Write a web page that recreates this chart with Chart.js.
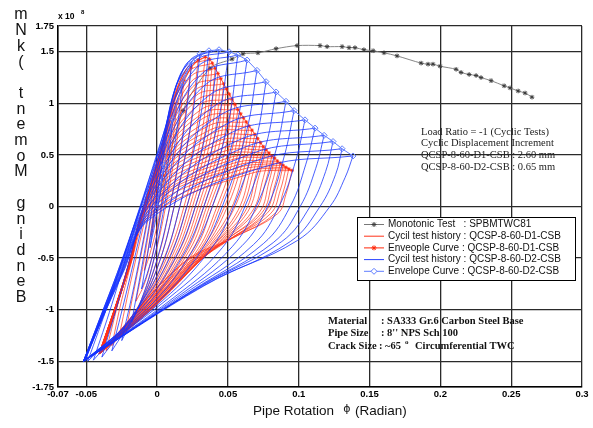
<!DOCTYPE html>
<html>
<head>
<meta charset="utf-8">
<script src="https://cdn.jsdelivr.net/npm/chart.js@4.4.1/dist/chart.umd.min.js"></script>
<style>
html,body{margin:0;padding:0;background:#fff;}
canvas{display:block;}
</style>
</head>
<body>
<canvas id="c" width="593" height="428" style="width:593px;height:428px"></canvas>
<script>
// ---- axis ticks ----
const xTickVals = [-0.07, -0.05, 0, 0.05, 0.1, 0.15, 0.2, 0.25, 0.3];
const xTickLabels = ['-0.07', '-0.05', '0', '0.05', '0.1', '0.15', '0.2', '0.25', '0.3'];
const yTickVals = [-1.75, -1.5, -1, -0.5, 0, 0.5, 1, 1.5, 1.75];
const yTickLabels = ['-1.75', '-1.5', '-1', '-0.5', '0', '0.5', '1', '1.5', '1.75'];

// ---- Monotonic test SPBMTWC81 (moment x 1e8) ----
const monoX = [0, 0.0183, 0.0373, 0.0529, 0.0606, 0.0712, 0.084, 0.0988, 0.115, 0.12, 0.1306, 0.1355, 0.1397, 0.146, 0.1525, 0.1602, 0.1694, 0.1864, 0.1913, 0.1948, 0.1998, 0.2111, 0.2146, 0.2203, 0.2252, 0.2287, 0.2358, 0.245, 0.2492, 0.2549, 0.2598, 0.2647];
const monoY = [0, 0.93, 1.34, 1.43, 1.48, 1.49, 1.53, 1.56, 1.56, 1.55, 1.55, 1.54, 1.54, 1.52, 1.51, 1.49, 1.46, 1.39, 1.38, 1.38, 1.36, 1.33, 1.30, 1.28, 1.27, 1.25, 1.22, 1.17, 1.15, 1.12, 1.10, 1.06];

// ---- QCSP-8-60-D2-CSB cycles (blue): peaks, tips and via points of each cycle ----
const d2PeakX = [0.005, 0.011, 0.018, 0.0246, 0.0303, 0.0366, 0.0437, 0.0508, 0.057, 0.0635, 0.0705, 0.0769, 0.084, 0.091, 0.0967, 0.1044, 0.1115, 0.1179, 0.1242, 0.1306, 0.1383];
const d2PeakY = [0.40, 0.85, 1.20, 1.41, 1.48, 1.51, 1.52, 1.50, 1.47, 1.42, 1.32, 1.21, 1.11, 1.02, 0.93, 0.84, 0.76, 0.69, 0.63, 0.56, 0.49];
const d2TipX = [-0.005, -0.011, -0.018, -0.025, -0.032, -0.039, -0.045, -0.049, -0.051, -0.052, -0.052, -0.052, -0.051, -0.052, -0.052, -0.051, -0.052, -0.052, -0.051, -0.052, -0.052];
const d2TipY = [-0.40, -0.80, -1.12, -1.30, -1.40, -1.46, -1.49, -1.50, -1.50, -1.50, -1.50, -1.50, -1.49, -1.50, -1.50, -1.49, -1.50, -1.50, -1.49, -1.50, -1.50];
const d2AX = [0.001, -0.002, -0.006, -0.011, -0.016, -0.022, -0.027, -0.032, -0.034, -0.034, -0.034, -0.033, -0.032, -0.031, -0.030, -0.029, -0.028, -0.027, -0.026, -0.025, -0.024];
const d2AY = [0.08, -0.10, -0.40, -0.60, -0.75, -0.85, -0.90, -0.95, -0.92, -0.90, -0.86, -0.82, -0.80, -0.78, -0.76, -0.74, -0.72, -0.70, -0.68, -0.66, -0.64];
const d2KX = [0.0025, 0.003, 0.002, 0.002, 0.003, 0.004, 0.006, 0.008, 0.007, 0.006, 0.005, 0.004, 0.003, 0.002, 0.001, 0.0, -0.001, -0.002, -0.003, -0.004, -0.005];
const d2KY = [0.20, 0.35, 0.30, 0.40, 0.55, 0.65, 0.78, 0.85, 0.75, 0.65, 0.55, 0.45, 0.35, 0.27, 0.20, 0.12, 0.05, 0.00, -0.05, -0.09, -0.12];
const d2BX = [0.004, 0.007, 0.010, 0.013, 0.016, 0.019, 0.022, 0.026, 0.028, 0.031, 0.034, 0.037, 0.041, 0.045, 0.049, 0.053, 0.057, 0.061, 0.066, 0.071, 0.077];
const d2BY = [0.32, 0.68, 0.95, 1.15, 1.27, 1.35, 1.40, 1.40, 1.35, 1.28, 1.18, 1.08, 0.98, 0.89, 0.80, 0.72, 0.64, 0.57, 0.51, 0.45, 0.39];
const d2CX = [0.003, 0.008, 0.013, 0.019, 0.024, 0.030, 0.036, 0.043, 0.050, 0.056, 0.063, 0.070, 0.077, 0.084, 0.090, 0.098, 0.105, 0.112, 0.119, 0.126, 0.1327];
const d2CY = [0.20, 0.45, 0.65, 0.75, 0.80, 0.82, 0.82, 0.82, 0.80, 0.78, 0.72, 0.66, 0.60, 0.55, 0.50, 0.45, 0.41, 0.37, 0.34, 0.31, 0.28];
const d2DX = [0.0, 0.003, 0.005, 0.009, 0.012, 0.016, 0.021, 0.027, 0.033, 0.039, 0.046, 0.054, 0.062, 0.070, 0.078, 0.086, 0.094, 0.101, 0.108, 0.115, 0.122];
const d2DY = [-0.05, 0, 0, 0, 0, 0, 0, 0, 0, 0, 0, 0, 0, 0, 0, 0, 0, 0, 0, 0, 0];
const d2EX = [-0.002, -0.002, -0.003, -0.002, 0.0, 0.003, 0.007, 0.012, 0.018, 0.024, 0.031, 0.038, 0.046, 0.053, 0.060, 0.068, 0.075, 0.082, 0.088, 0.094, 0.099];
const d2EY = [-0.20, -0.40, -0.55, -0.60, -0.60, -0.58, -0.55, -0.52, -0.48, -0.45, -0.43, -0.41, -0.40, -0.39, -0.38, -0.37, -0.36, -0.35, -0.34, -0.34, -0.33];
const d2FX = [-0.004, -0.007, -0.011, -0.014, -0.016, -0.017, -0.015, -0.012, -0.008, -0.004, 0.0, 0.004, 0.008, 0.012, 0.016, 0.020, 0.024, 0.027, 0.030, 0.033, 0.035];
const d2FY = [-0.33, -0.65, -0.90, -1.00, -1.05, -1.05, -1.02, -1.00, -0.97, -0.95, -0.93, -0.91, -0.89, -0.88, -0.86, -0.84, -0.82, -0.80, -0.78, -0.77, -0.75];

// ---- QCSP-8-60-D1-CSB cycles (red) ----
const d1PeakX = [0.004, 0.009, 0.014, 0.019, 0.024, 0.029, 0.034, 0.037, 0.039, 0.041, 0.043, 0.045, 0.047, 0.049, 0.051, 0.053, 0.055, 0.057, 0.059, 0.061, 0.063, 0.065, 0.067, 0.069, 0.071, 0.073, 0.075, 0.077, 0.079, 0.081, 0.083, 0.085, 0.087, 0.089, 0.091, 0.093, 0.0953];
const d1PeakY = [0.30, 0.68, 1.00, 1.22, 1.35, 1.42, 1.45, 1.43, 1.39, 1.34, 1.29, 1.24, 1.19, 1.14, 1.09, 1.04, 0.99, 0.94, 0.90, 0.86, 0.82, 0.78, 0.74, 0.70, 0.66, 0.62, 0.58, 0.55, 0.52, 0.49, 0.47, 0.44, 0.42, 0.40, 0.38, 0.365, 0.35];
const d1TipX = [-0.004, -0.009, -0.015, -0.021, -0.027, -0.032, -0.036, -0.039, -0.040, -0.041, -0.040, -0.039, -0.040, -0.041, -0.040, -0.039, -0.040, -0.041, -0.040, -0.039, -0.040, -0.041, -0.040, -0.039, -0.040, -0.041, -0.040, -0.039, -0.040, -0.041, -0.040, -0.039, -0.040, -0.041, -0.040, -0.040, -0.040];
const d1TipY = [-0.28, -0.62, -0.92, -1.13, -1.27, -1.35, -1.40, -1.41, -1.42, -1.43, -1.42, -1.41, -1.42, -1.43, -1.42, -1.41, -1.42, -1.43, -1.42, -1.41, -1.42, -1.43, -1.42, -1.41, -1.42, -1.43, -1.42, -1.41, -1.42, -1.43, -1.42, -1.41, -1.42, -1.43, -1.42, -1.42, -1.42];
const d1AX = [0.001, -0.002, -0.005, -0.009, -0.014, -0.019, -0.024, -0.026, -0.026, -0.026, -0.026, -0.025, -0.025, -0.025, -0.025, -0.025, -0.024, -0.024, -0.024, -0.024, -0.023, -0.023, -0.023, -0.023, -0.022, -0.022, -0.022, -0.022, -0.021, -0.021, -0.021, -0.021, -0.020, -0.020, -0.020, -0.019, -0.019];
const d1AY = [0.07, -0.05, -0.30, -0.50, -0.65, -0.75, -0.85, -0.86, -0.85, -0.84, -0.83, -0.82, -0.81, -0.80, -0.79, -0.78, -0.77, -0.76, -0.75, -0.74, -0.73, -0.72, -0.71, -0.70, -0.69, -0.68, -0.67, -0.66, -0.65, -0.64, -0.63, -0.62, -0.61, -0.60, -0.59, -0.57, -0.56];
const d1KX = [0.002, 0.002, 0.001, 0.001, 0.002, 0.004, 0.007, 0.008, 0.0075, 0.007, 0.0065, 0.006, 0.0055, 0.005, 0.0045, 0.004, 0.0035, 0.003, 0.0025, 0.002, 0.0015, 0.001, 0.0005, 0.0, -0.0005, -0.001, -0.0015, -0.002, -0.0025, -0.003, -0.0035, -0.004, -0.0045, -0.005, -0.0052, -0.0056, -0.006];
const d1KY = [0.15, 0.30, 0.30, 0.35, 0.45, 0.60, 0.75, 0.82, 0.78, 0.74, 0.70, 0.66, 0.62, 0.58, 0.55, 0.51, 0.48, 0.45, 0.42, 0.39, 0.36, 0.33, 0.30, 0.27, 0.24, 0.21, 0.18, 0.15, 0.12, 0.09, 0.06, 0.04, 0.02, 0.0, -0.03, -0.07, -0.10];
const d1BX = [0.003, 0.005, 0.007, 0.010, 0.013, 0.016, 0.020, 0.021, 0.022, 0.023, 0.024, 0.025, 0.026, 0.027, 0.028, 0.029, 0.031, 0.032, 0.033, 0.035, 0.036, 0.037, 0.039, 0.040, 0.042, 0.043, 0.045, 0.046, 0.048, 0.050, 0.052, 0.054, 0.056, 0.058, 0.060, 0.063, 0.066];
const d1BY = [0.23, 0.52, 0.75, 0.95, 1.10, 1.22, 1.32, 1.34, 1.30, 1.25, 1.21, 1.16, 1.12, 1.07, 1.03, 0.98, 0.94, 0.90, 0.86, 0.82, 0.78, 0.74, 0.71, 0.67, 0.63, 0.60, 0.56, 0.53, 0.50, 0.47, 0.45, 0.42, 0.40, 0.38, 0.36, 0.34, 0.32];
const d1CX = [0.002, 0.006, 0.010, 0.014, 0.018, 0.023, 0.028, 0.032, 0.034, 0.036, 0.038, 0.040, 0.042, 0.044, 0.046, 0.048, 0.050, 0.052, 0.054, 0.056, 0.058, 0.060, 0.062, 0.064, 0.066, 0.068, 0.070, 0.072, 0.075, 0.077, 0.079, 0.081, 0.083, 0.085, 0.087, 0.089, 0.091];
const d1CY = [0.12, 0.35, 0.52, 0.64, 0.70, 0.74, 0.76, 0.75, 0.73, 0.70, 0.68, 0.65, 0.63, 0.60, 0.58, 0.55, 0.53, 0.50, 0.48, 0.46, 0.44, 0.42, 0.40, 0.38, 0.36, 0.34, 0.32, 0.30, 0.28, 0.26, 0.24, 0.22, 0.20, 0.18, 0.16, 0.14, 0.12];
const d1DX = [0.0, 0.002, 0.003, 0.006, 0.009, 0.012, 0.016, 0.019, 0.021, 0.023, 0.025, 0.027, 0.029, 0.031, 0.033, 0.035, 0.037, 0.039, 0.042, 0.044, 0.047, 0.049, 0.052, 0.054, 0.057, 0.059, 0.062, 0.064, 0.067, 0.069, 0.072, 0.074, 0.076, 0.078, 0.080, 0.083, 0.085];
const d1DY = [-0.05, -0.05, -0.05, 0, 0, 0, 0, 0, 0, 0, 0, 0, 0, 0, 0, 0, 0, 0, -0.01, -0.01, -0.02, -0.02, -0.03, -0.03, -0.04, -0.04, -0.05, -0.05, -0.05, -0.05, -0.06, -0.06, -0.06, -0.06, -0.07, -0.07, -0.07];
const d1EX = [-0.002, -0.002, -0.003, -0.002, 0.0, 0.002, 0.005, 0.007, 0.009, 0.011, 0.013, 0.015, 0.017, 0.019, 0.021, 0.023, 0.025, 0.027, 0.029, 0.031, 0.032, 0.034, 0.035, 0.037, 0.038, 0.040, 0.041, 0.043, 0.044, 0.046, 0.047, 0.048, 0.050, 0.051, 0.052, 0.053, 0.054];
const d1EY = [-0.15, -0.30, -0.45, -0.50, -0.52, -0.52, -0.50, -0.49, -0.48, -0.47, -0.46, -0.45, -0.44, -0.43, -0.43, -0.42, -0.42, -0.41, -0.41, -0.40, -0.40, -0.39, -0.39, -0.38, -0.38, -0.37, -0.36, -0.35, -0.35, -0.34, -0.34, -0.33, -0.33, -0.32, -0.31, -0.31, -0.30];
const d1FX = [-0.003, -0.006, -0.009, -0.011, -0.013, -0.014, -0.013, -0.012, -0.011, -0.010, -0.009, -0.008, -0.007, -0.006, -0.005, -0.004, -0.003, -0.002, -0.001, 0.0, 0.001, 0.002, 0.003, 0.004, 0.005, 0.006, 0.007, 0.008, 0.009, 0.010, 0.011, 0.012, 0.013, 0.014, 0.015, 0.016, 0.018];
const d1FY = [-0.22, -0.50, -0.75, -0.90, -0.98, -1.02, -1.00, -0.98, -0.97, -0.96, -0.96, -0.95, -0.95, -0.94, -0.94, -0.93, -0.93, -0.92, -0.92, -0.91, -0.91, -0.90, -0.90, -0.89, -0.88, -0.86, -0.84, -0.82, -0.80, -0.77, -0.74, -0.71, -0.68, -0.65, -0.62, -0.58, -0.55];

// ---- texts ----
const yTitle = 'Bending Moment (kNm';
const legendLabels = ['Monotonic Test   : SPBMTWC81', 'Cycil test history : QCSP-8-60-D1-CSB', 'Enveople Curve : QCSP-8-60-D1-CSB', 'Cycil test history : QCSP-8-60-D2-CSB', 'Envelope Curve : QCSP-8-60-D2-CSB'];
const noteLines = ['Load Ratio = -1 (Cyclic Tests)', 'Cyclic Displacement Increment', 'QCSP-8-60-D1-CSB : 2.60 mm', 'QCSP-8-60-D2-CSB : 0.65 mm'];

// ---- build datasets ----
const pt = (x, y) => ({x: x, y: y});
function cycleSets(S, color, width, order) {
  const sets = [];
  const n = S.px.length;
  for (let k = 0; k < n; k++) {
    const start = k === 0 ? pt(0, 0) : pt(S.tx[k - 1], S.ty[k - 1]);
    const reload = [start, pt(S.ax[k], S.ay[k]), pt(S.kx[k], S.ky[k]), pt(S.bx[k], S.by[k]), pt(S.px[k], S.py[k])];
    const unload = [pt(S.px[k], S.py[k]), pt(S.cx[k], S.cy[k]), pt(S.dx[k], S.dy[k]), pt(S.ex[k], S.ey[k]), pt(S.fx[k], S.fy[k]), pt(S.tx[k], S.ty[k])];
    [reload, unload].forEach(seg => sets.push({
      data: seg, showLine: true, pointRadius: 0, borderColor: color, borderWidth: width,
      tension: 0.4, fill: false, order: order
    }));
  }
  return sets;
}
const d2 = {px: d2PeakX, py: d2PeakY, tx: d2TipX, ty: d2TipY, ax: d2AX, ay: d2AY, kx: d2KX, ky: d2KY, bx: d2BX, by: d2BY, cx: d2CX, cy: d2CY, dx: d2DX, dy: d2DY, ex: d2EX, ey: d2EY, fx: d2FX, fy: d2FY};
const d1 = {px: d1PeakX, py: d1PeakY, tx: d1TipX, ty: d1TipY, ax: d1AX, ay: d1AY, kx: d1KX, ky: d1KY, bx: d1BX, by: d1BY, cx: d1CX, cy: d1CY, dx: d1DX, dy: d1DY, ex: d1EX, ey: d1EY, fx: d1FX, fy: d1FY};

const BLUE = 'rgba(20,50,255,0.92)';
const RED = 'rgb(255,50,25)';
const BLUE_ENV = 'rgb(95,125,255)';
const RED_ENV = 'rgb(255,40,10)';
const MONO = 'rgb(120,120,120)';

const datasets = [];
datasets.push({
  label: 'env2', data: [pt(0, 0)].concat(d2PeakX.map((x, i) => pt(x, d2PeakY[i]))),
  showLine: true, borderColor: BLUE_ENV, borderWidth: 1, pointStyle: 'rectRot', pointRadius: 3,
  pointBorderColor: BLUE_ENV, pointBackgroundColor: 'rgba(255,255,255,0)', pointBorderWidth: 1, tension: 0, order: 0
});
datasets.push(...cycleSets(d2, BLUE, 0.85, 1));
datasets.push({
  label: 'env1', data: [pt(0, 0)].concat(d1PeakX.map((x, i) => pt(x, d1PeakY[i]))),
  showLine: true, borderColor: RED_ENV, borderWidth: 0.8, pointStyle: 'star', pointRadius: 1.8,
  pointBorderColor: RED_ENV, pointBorderWidth: 0.8, tension: 0, order: 2
});
datasets.push(...cycleSets(d1, RED, 0.7, 3));
datasets.push({
  label: 'mono', data: monoX.map((x, i) => pt(x, monoY[i])),
  showLine: true, borderColor: MONO, borderWidth: 0.9, pointStyle: 'star', pointRadius: 2.3,
  pointBorderColor: 'rgb(60,60,60)', pointBorderWidth: 1, tension: 0.3, order: 4
});

const SANS = '"Liberation Sans", Arial, Helvetica, sans-serif';
const SERIF = '"Liberation Serif", "Times New Roman", serif';

const overlay = {
  id: 'overlay',
  afterDraw(chart) {
    const c = chart.ctx;
    c.save();
    // exponent
    c.fillStyle = '#000';
    c.textAlign = 'left'; c.textBaseline = 'alphabetic';
    c.font = 'bold 8.5px ' + SANS;
    c.fillText('x 10', 58, 18.5);
    c.font = 'bold 6px ' + SANS;
    c.fillText('8', 81, 13.5);
    // y title: stacked characters, read bottom to top
    c.font = '16px ' + SANS;
    c.fillStyle = '#111';
    c.textAlign = 'center'; c.textBaseline = 'middle';
    const chars = yTitle.split('').reverse();
    chars.forEach((ch, i) => { if (ch !== ' ') c.fillText(ch, 21, 15 + i * 15.7); });
    // x title
    c.textBaseline = 'alphabetic';
    c.font = '13.5px ' + SANS;
    c.textAlign = 'right';
    c.fillText('Pipe Rotation', 334, 415);
    c.textAlign = 'center';
    c.font = '11px "DejaVu Sans", sans-serif';
    c.fillText('\u03D5', 347, 412);
    c.textAlign = 'left';
    c.font = '13.5px ' + SANS;
    c.fillText('(Radian)', 355, 415);
    // note
    c.font = '10.5px ' + SERIF;
    c.fillStyle = '#222';
    c.textBaseline = 'middle';
    noteLines.forEach((t, i) => c.fillText(t, 421, 132 + i * 11.7));
    // material block
    c.font = 'bold 10.5px ' + SERIF;
    c.fillStyle = '#111';
    c.fillText('Material', 328, 321);
    c.fillText(': SA333 Gr.6 Carbon Steel Base', 381, 321);
    c.fillText('Pipe Size', 328, 333.5);
    c.fillText(': 8\'\' NPS Sch 100', 381, 333.5);
    c.fillText('Crack Size', 328, 346);
    c.fillText(': ~65', 379, 346);
    c.font = 'bold 7px ' + SERIF;
    c.fillText('o', 405, 342);
    c.font = 'bold 10.5px ' + SERIF;
    c.fillText('Circumferential TWC', 415, 346);
    // legend
    const lx = 357, ly = 217, lw = 218, lh = 63;
    c.fillStyle = '#fff';
    c.fillRect(lx, ly, lw, lh);
    c.strokeStyle = '#000'; c.lineWidth = 1;
    c.strokeRect(lx + 0.5, ly + 0.5, lw, lh);
    const rows = [224.5, 236.2, 247.9, 259.6, 271.3];
    const cols = [MONO, RED, RED_ENV, BLUE, BLUE_ENV];
    rows.forEach((y, i) => {
      c.strokeStyle = cols[i]; c.lineWidth = 1;
      c.beginPath(); c.moveTo(364, y); c.lineTo(384, y); c.stroke();
      const mx = 374;
      if (i === 0 || i === 2) {
        c.strokeStyle = i === 0 ? 'rgb(60,60,60)' : RED_ENV;
        c.beginPath();
        c.moveTo(mx - 2.5, y); c.lineTo(mx + 2.5, y);
        c.moveTo(mx, y - 2.5); c.lineTo(mx, y + 2.5);
        c.moveTo(mx - 1.8, y - 1.8); c.lineTo(mx + 1.8, y + 1.8);
        c.moveTo(mx - 1.8, y + 1.8); c.lineTo(mx + 1.8, y - 1.8);
        c.stroke();
      } else if (i === 4) {
        c.strokeStyle = BLUE_ENV;
        c.fillStyle = '#fff';
        c.beginPath();
        c.moveTo(mx, y - 3); c.lineTo(mx + 3, y); c.lineTo(mx, y + 3); c.lineTo(mx - 3, y); c.closePath();
        c.fill(); c.stroke();
      }
      c.fillStyle = '#111';
      c.font = '10px ' + SANS;
      c.textAlign = 'left'; c.textBaseline = 'middle';
      c.fillText(legendLabels[i], 388, y);
    });
    c.restore();
  }
};

new Chart(document.getElementById('c'), {
  type: 'scatter',
  data: {datasets: datasets},
  options: {
    responsive: false,
    animation: false,
    events: [],
    layout: {padding: {top: 26, right: 11, left: 0, bottom: 0}},
    plugins: {legend: {display: false}, tooltip: {enabled: false}},
    scales: {
      x: {
        type: 'linear', min: -0.07, max: 0.3,
        afterBuildTicks: s => { s.ticks = xTickVals.map(v => ({value: v})); },
        afterFit: s => { s.height = 41; },
        grid: {color: '#2a2a2a', lineWidth: 1.3, drawTicks: false},
        border: {display: true, color: '#000', width: 1.5},
        ticks: {
          autoSkip: false, maxRotation: 0, padding: 2, color: '#000',
          font: {family: SANS, size: 9.5, weight: 'bold'},
          callback: (v, i) => xTickLabels[i]
        }
      },
      y: {
        type: 'linear', min: -1.75, max: 1.75,
        afterBuildTicks: s => { s.ticks = yTickVals.map(v => ({value: v})); },
        afterFit: s => { s.width = 58; },
        grid: {color: '#2a2a2a', lineWidth: 1.3, drawTicks: false},
        border: {display: true, color: '#000', width: 1.5},
        ticks: {
          autoSkip: false, padding: 4, color: '#000',
          font: {family: SANS, size: 9.5, weight: 'bold'},
          callback: (v, i) => yTickLabels[i]
        }
      }
    }
  },
  plugins: [overlay]
});
</script>
</body>
</html>
